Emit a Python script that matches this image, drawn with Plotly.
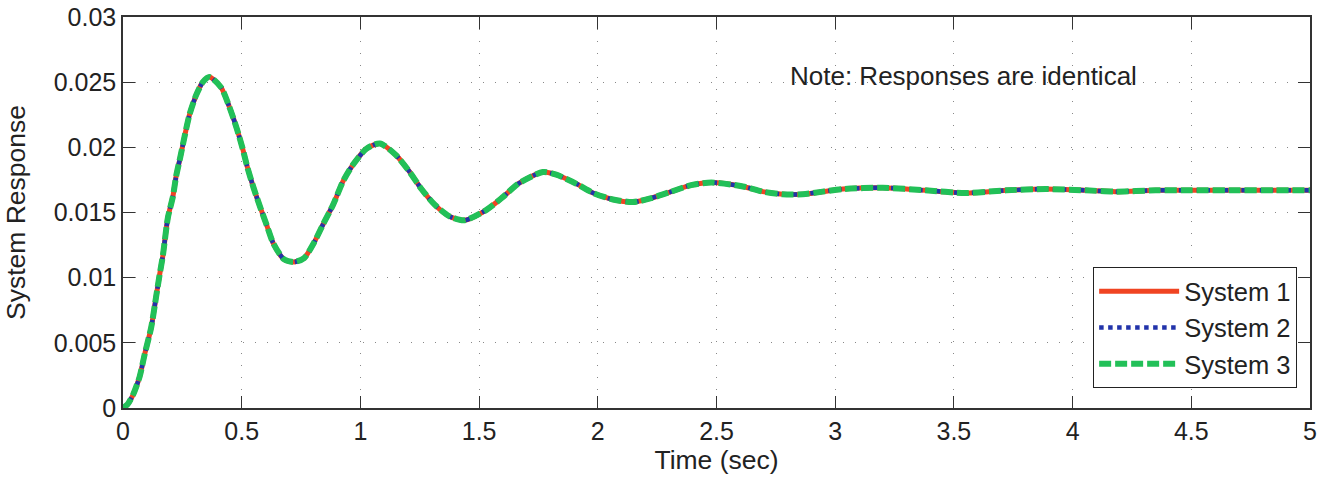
import plotly.graph_objects as go

# Time (sec) and response values
time_s = [0.0, 0.02, 0.042, 0.07, 0.091, 0.119, 0.14, 0.154, 0.168, 0.189, 0.21, 0.224,
          0.242, 0.259, 0.28, 0.308, 0.336, 0.364, 0.413, 0.448, 0.48, 0.504, 0.525,
          0.55, 0.578, 0.606, 0.634, 0.679, 0.721, 0.763, 0.805, 0.843, 0.885,
          0.927, 0.97, 1.026, 1.082, 1.15, 1.208, 1.257, 1.313, 1.376, 1.439, 1.531,
          1.601, 1.664, 1.769, 1.825, 1.91, 1.98, 2.064, 2.148, 2.225, 2.309, 2.393,
          2.478, 2.611, 2.695, 2.779, 2.863, 2.947, 3.032, 3.2, 3.38, 3.55, 3.72, 3.887,
          4.056, 4.18, 4.35, 4.5, 4.7, 4.85, 5.0]
response = [0.0, 0.0003, 0.0010, 0.0024, 0.0041, 0.0062, 0.0086, 0.0102, 0.0117, 0.0146,
            0.0162, 0.0178, 0.0193, 0.0208, 0.0225, 0.0240, 0.0250, 0.0254, 0.0246, 0.0231,
            0.0214, 0.0199, 0.0184, 0.0169, 0.0154, 0.0140, 0.0126, 0.0114, 0.0112, 0.0115,
            0.0127, 0.0141, 0.0156, 0.0174, 0.0187, 0.0199, 0.0203, 0.0194, 0.0181, 0.0168,
            0.0156, 0.0147, 0.0144, 0.0152, 0.0162, 0.0172, 0.0181, 0.0179, 0.0172, 0.0165,
            0.0160, 0.0158, 0.0161, 0.0166, 0.0171, 0.0173, 0.0170, 0.0166, 0.0164, 0.0164,
            0.0166, 0.0168, 0.0169, 0.0167, 0.0165, 0.0167, 0.0168, 0.0167, 0.0166, 0.0167,
            0.0167, 0.0167, 0.0167, 0.0167]

series_names = ["System 1", "System 2", "System 3"]
series_colors = ["#f04422", "#2233aa", "#22c058"]

x_ticks = [0, 0.5, 1, 1.5, 2, 2.5, 3, 3.5, 4, 4.5, 5]
x_tick_labels = ["0", "0.5", "1", "1.5", "2", "2.5", "3", "3.5", "4", "4.5", "5"]
y_ticks = [0, 0.005, 0.01, 0.015, 0.02, 0.025, 0.03]
y_tick_labels = ["0", "0.005", "0.01", "0.015", "0.02", "0.025", "0.03"]

FONT = "Liberation Sans, Arial, sans-serif"
TXT = "#222222"

fig = go.Figure()
styles = [dict(dash="solid", width=5), dict(dash="dot", width=4.5), dict(dash="12px,4px", width=6)]
for name, color, st in zip(series_names, series_colors, styles):
    fig.add_trace(go.Scatter(
        x=time_s, y=response, mode="lines", name=name,
        line=dict(color=color, dash=st["dash"], width=st["width"], shape="spline", smoothing=0.7),
    ))

axis_common = dict(
    showline=True, linecolor="#333333", linewidth=1.5, mirror="ticks",
    ticks="inside", ticklen=12, tickcolor="#333333", tickwidth=1.2,
    showgrid=True, gridcolor="#888888", griddash="1px,11px", gridwidth=1.2,
    zeroline=False, automargin=False, ticklabeloverflow="allow",
    tickfont=dict(family=FONT, size=25, color=TXT),
)

fig.update_xaxes(range=[0, 5], tickvals=x_ticks, ticktext=x_tick_labels,
                 title=dict(text="Time (sec)", font=dict(family=FONT, size=26.5, color=TXT), standoff=4),
                 **axis_common)
fig.update_yaxes(range=[0, 0.03], tickvals=y_ticks, ticktext=y_tick_labels,
                 title=dict(text="System Response", font=dict(family=FONT, size=26.5, color=TXT), standoff=20),
                 **axis_common)

fig.add_annotation(x=2.8, y=0.0255, xref="x", yref="y", text="Note: Responses are identical",
                   showarrow=False, xanchor="left", yanchor="middle",
                   font=dict(family=FONT, size=26, color=TXT))

fig.update_layout(
    width=1330, height=478,
    margin=dict(l=123, r=20, t=17, b=70),
    paper_bgcolor="white", plot_bgcolor="white",
    showlegend=True,
    legend=dict(x=0.989, y=0.051, xanchor="right", yanchor="bottom",
                bgcolor="white", bordercolor="#222222", borderwidth=1.2,
                font=dict(family=FONT, size=25.5, color=TXT),
                itemwidth=80, tracegroupgap=0),
)

# remove the default page margin so the figure sits at the window's top-left corner
fig.write_html("out.html", config={"displayModeBar": False},
               post_script="document.body.style.margin='0';")
